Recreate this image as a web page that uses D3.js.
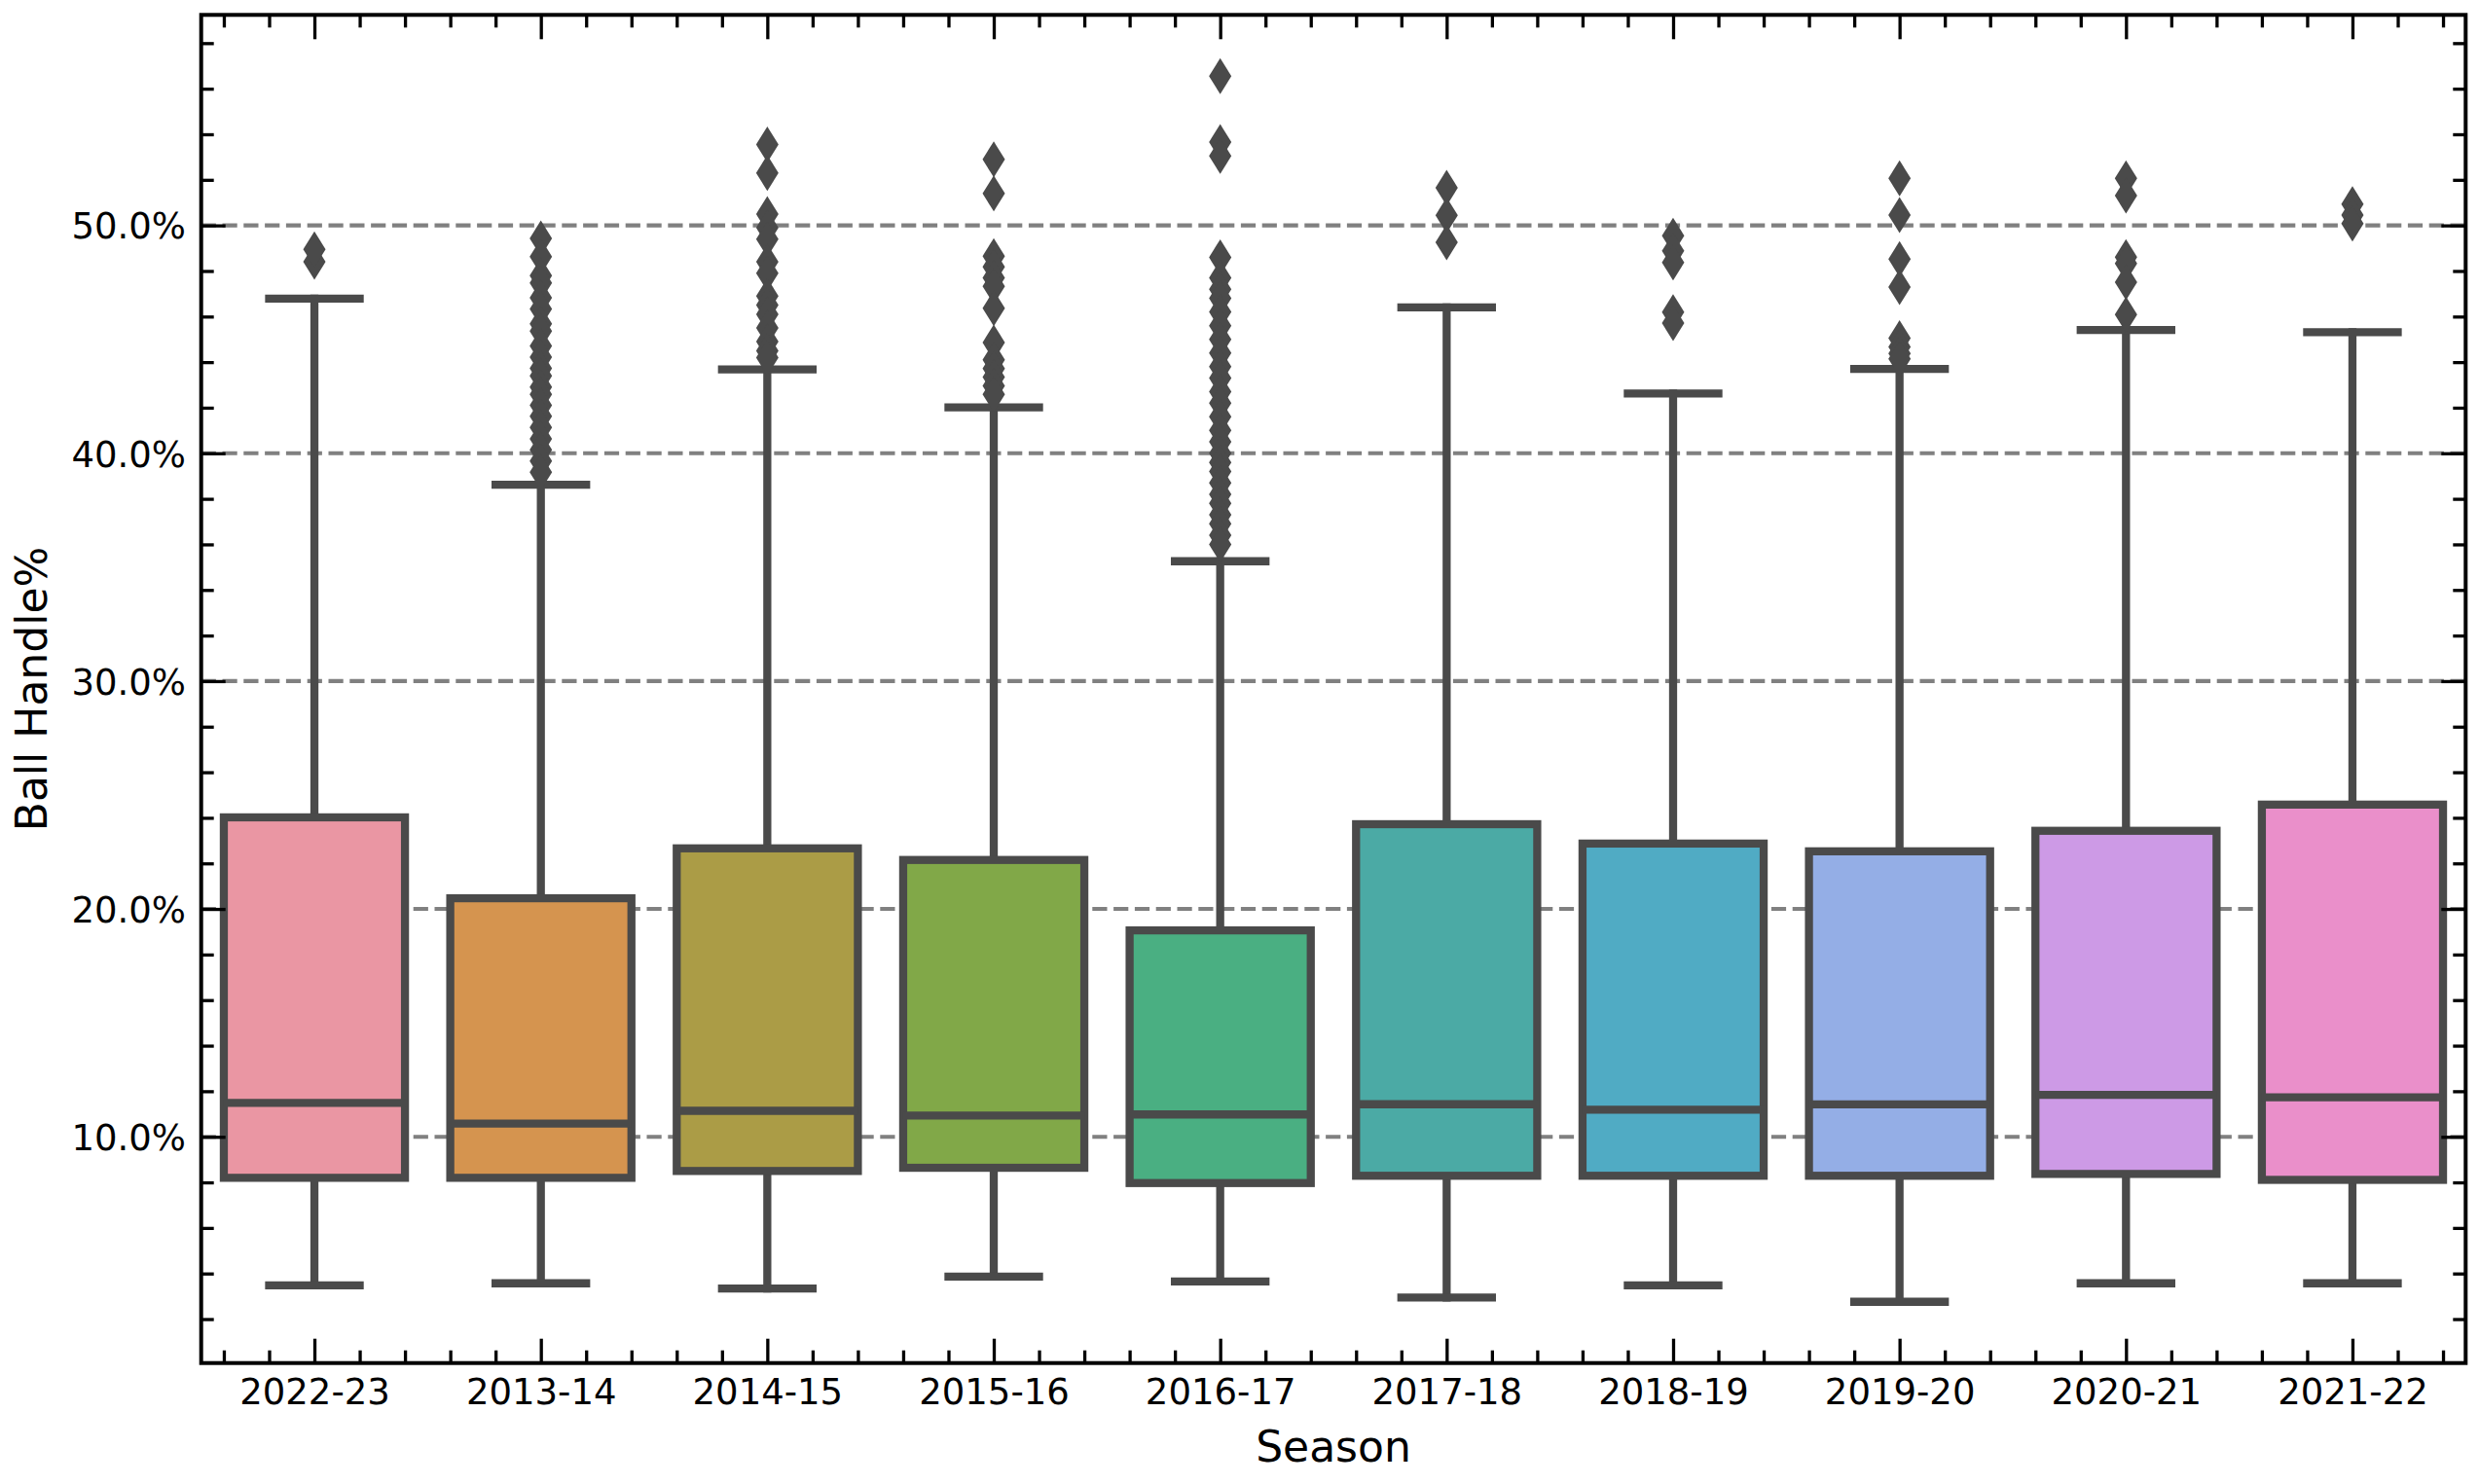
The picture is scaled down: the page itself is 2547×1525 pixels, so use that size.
<!DOCTYPE html>
<html>
<head>
<meta charset="utf-8">
<script src="https://cdnjs.cloudflare.com/ajax/libs/d3/7.8.5/d3.min.js"></script>
<style>
	body { margin: 0; background: #ffffff; }
	text { font-family: "DejaVu Sans", sans-serif; fill: #000000; }
</style>
</head>
<body>
<div id="chart"></div>
<script>
//Seasons in the order they were plotted
var seasons = ["2022-23","2013-14","2014-15","2015-16","2016-17","2017-18","2018-19","2019-20","2020-21","2021-22"];

//Box statistics (Ball Handle %)
var whiskerLow  = [3.48, 3.57, 3.34, 3.86, 3.65, 2.95, 3.48, 2.76, 3.57, 3.57];
var q1          = [8.20, 8.20, 8.50, 8.64, 7.97, 8.29, 8.29, 8.29, 8.37, 8.11];
var median      = [11.49, 10.58, 11.14, 10.93, 10.98, 11.43, 11.19, 11.42, 11.84, 11.73];
var q3          = [24.02, 20.47, 22.66, 22.15, 19.06, 23.72, 22.87, 22.53, 23.43, 24.58];
var whiskerHigh = [46.79, 38.62, 43.68, 42.01, 35.26, 46.40, 42.62, 43.70, 45.41, 45.31];

//Outliers per season
var outliers = [
	[48.40, 48.95],
	[49.43, 48.63, 47.80, 47.47, 46.82, 46.33, 45.68, 45.36, 44.71, 44.22, 43.73, 43.40, 42.91, 42.59, 42.11, 41.62, 41.13, 40.63, 40.15, 39.66, 39.17],
	[53.55, 52.30, 50.50, 49.90, 49.40, 48.40, 47.90, 46.90, 46.50, 46.10, 45.50, 44.90, 44.50, 44.20],
	[52.90, 51.40, 48.65, 48.18, 47.70, 47.33, 46.37, 44.86, 44.10, 43.72, 43.34, 42.96, 42.59],
	[56.55, 53.66, 53.05, 48.60, 47.70, 47.20, 46.80, 46.20, 45.60, 45.00, 44.40, 43.80, 43.30, 42.70, 42.20, 41.60, 41.00, 40.50, 40.00, 39.60, 39.20, 38.70, 38.20, 37.80, 37.30, 36.90, 36.40, 36.00],
	[51.65, 50.44, 49.26],
	[49.55, 48.88, 48.37, 46.19, 45.71],
	[52.07, 50.45, 48.52, 47.29, 45.05, 44.67, 44.38, 44.14],
	[52.07, 51.31, 48.61, 48.33, 47.51, 46.09],
	[50.93, 50.45, 50.08]
];

//Box fill colours (desaturated husl)
var boxColors = ["#ea96a3","#d5944f","#ab9c46","#81a848","#4aaf82","#4baaa5","#50abc4","#94aee6","#cd9ae6","#ea8fca"];

//Axis ticks
var yMajorTicks = [10, 20, 30, 40, 50];
var yTickLabels = ["10.0%","20.0%","30.0%","40.0%","50.0%"];

var W = 2547, H = 1525;
var plot = { left: 206.7, right: 2533.3, top: 15.3, bottom: 1400.7 };
var lineColor = "#4a4a4a";
var lw = 8.3;

var svg = d3.select("#chart")
	.append("svg")
	.attr("width", W)
	.attr("height", H);

///////////////////////////////////////////////////////////////////////////
//////////////////////////////// Scales ///////////////////////////////////
///////////////////////////////////////////////////////////////////////////

//y limits like matplotlib autoscale: data range + 5% each side
var allVals = whiskerLow.concat(whiskerHigh, d3.merge(outliers));
var lo = d3.min(allVals), hi = d3.max(allVals), pad = (hi - lo) * 0.05;

var y = d3.scaleLinear()
	.domain([lo - pad, hi + pad])
	.range([plot.bottom, plot.top]);

var x = d3.scaleLinear()
	.domain([-0.5, seasons.length - 0.5])
	.range([plot.left, plot.right]);

var step = x(1) - x(0),
	boxW = step * 0.8,
	capW = boxW * 0.5;

//minor tick positions
var xMinor = d3.range(-0.4, seasons.length - 0.5, 0.2).filter(function(v){ return Math.abs(v - Math.round(v)) > 0.01; });
var yMinor = d3.range(Math.ceil(y.domain()[0] / 2) * 2, y.domain()[1], 2).filter(function(v){ return v % 10 !== 0; });

///////////////////////////////////////////////////////////////////////////
//////////////////////////////// Grid /////////////////////////////////////
///////////////////////////////////////////////////////////////////////////

svg.append("g").selectAll("line")
	.data(yMajorTicks)
	.enter().append("line")
	.attr("x1", plot.left)
	.attr("x2", plot.right)
	.attr("y1", function(d){ return y(d); })
	.attr("y2", function(d){ return y(d); })
	.style("stroke", "#808080")
	.style("stroke-width", 4.1)
	.style("stroke-dasharray", "15.2,6.6");

///////////////////////////////////////////////////////////////////////////
//////////////////////////////// Boxes ////////////////////////////////////
///////////////////////////////////////////////////////////////////////////

var boxes = svg.append("g").selectAll(".box")
	.data(seasons)
	.enter().append("g")
	.attr("class", "box");

//whiskers
boxes.append("line")
	.attr("x1", function(d,i){ return x(i); })
	.attr("x2", function(d,i){ return x(i); })
	.attr("y1", function(d,i){ return y(q1[i]); })
	.attr("y2", function(d,i){ return y(whiskerLow[i]); });
boxes.append("line")
	.attr("x1", function(d,i){ return x(i); })
	.attr("x2", function(d,i){ return x(i); })
	.attr("y1", function(d,i){ return y(q3[i]); })
	.attr("y2", function(d,i){ return y(whiskerHigh[i]); });

//caps
boxes.append("line")
	.attr("x1", function(d,i){ return x(i) - capW/2; })
	.attr("x2", function(d,i){ return x(i) + capW/2; })
	.attr("y1", function(d,i){ return y(whiskerLow[i]); })
	.attr("y2", function(d,i){ return y(whiskerLow[i]); });
boxes.append("line")
	.attr("x1", function(d,i){ return x(i) - capW/2; })
	.attr("x2", function(d,i){ return x(i) + capW/2; })
	.attr("y1", function(d,i){ return y(whiskerHigh[i]); })
	.attr("y2", function(d,i){ return y(whiskerHigh[i]); });

boxes.selectAll("line")
	.style("stroke", lineColor)
	.style("stroke-width", lw)
	.style("stroke-linecap", "square");

//box body
boxes.append("rect")
	.attr("x", function(d,i){ return x(i) - boxW/2; })
	.attr("y", function(d,i){ return y(q3[i]); })
	.attr("width", boxW)
	.attr("height", function(d,i){ return y(q1[i]) - y(q3[i]); })
	.style("fill", function(d,i){ return boxColors[i]; })
	.style("stroke", lineColor)
	.style("stroke-width", lw)
	.style("stroke-linejoin", "miter");

//median
boxes.append("line")
	.attr("class", "median")
	.attr("x1", function(d,i){ return x(i) - boxW/2; })
	.attr("x2", function(d,i){ return x(i) + boxW/2; })
	.attr("y1", function(d,i){ return y(median[i]); })
	.attr("y2", function(d,i){ return y(median[i]); })
	.style("stroke", lineColor)
	.style("stroke-width", lw);

//outliers as thin diamonds
var diamond = "M0,-18.5L11.5,0L0,18.5L-11.5,0Z";
boxes.each(function(d,i){
	d3.select(this).selectAll(".flier")
		.data(outliers[i])
		.enter().append("path")
		.attr("class", "flier")
		.attr("d", diamond)
		.attr("transform", function(v){ return "translate(" + x(i) + "," + y(v) + ")"; })
		.style("fill", lineColor);
});

///////////////////////////////////////////////////////////////////////////
//////////////////////////////// Axes /////////////////////////////////////
///////////////////////////////////////////////////////////////////////////

function styleAxis(g) {
	g.select(".domain").remove();
	g.selectAll(".tick line").style("stroke", "#000").style("stroke-width", 3.3);
	g.selectAll(".tick text").style("font-size", "37px").style("fill", "#000");
}

//bottom
svg.append("g")
	.attr("transform", "translate(0," + plot.bottom + ")")
	.call(d3.axisBottom(x).tickValues(d3.range(seasons.length)).tickFormat(function(i){ return seasons[i]; })
		.tickSize(-25).tickPadding(15.7))
	.call(styleAxis);
svg.append("g")
	.attr("transform", "translate(0," + plot.bottom + ")")
	.call(d3.axisBottom(x).tickValues(xMinor).tickFormat("").tickSize(-13))
	.call(styleAxis);

//top
svg.append("g")
	.attr("transform", "translate(0," + plot.top + ")")
	.call(d3.axisTop(x).tickValues(d3.range(seasons.length)).tickFormat("").tickSize(-25))
	.call(styleAxis);
svg.append("g")
	.attr("transform", "translate(0," + plot.top + ")")
	.call(d3.axisTop(x).tickValues(xMinor).tickFormat("").tickSize(-13))
	.call(styleAxis);

//left
svg.append("g")
	.attr("transform", "translate(" + plot.left + ",0)")
	.call(d3.axisLeft(y).tickValues(yMajorTicks).tickFormat(function(v,i){ return yTickLabels[i]; })
		.tickSize(-25).tickPadding(15.7))
	.call(styleAxis)
	.selectAll(".tick text").attr("dy", "0.36em");
svg.append("g")
	.attr("transform", "translate(" + plot.left + ",0)")
	.call(d3.axisLeft(y).tickValues(yMinor).tickFormat("").tickSize(-13))
	.call(styleAxis);

//right
svg.append("g")
	.attr("transform", "translate(" + plot.right + ",0)")
	.call(d3.axisRight(y).tickValues(yMajorTicks).tickFormat("").tickSize(-25))
	.call(styleAxis);
svg.append("g")
	.attr("transform", "translate(" + plot.right + ",0)")
	.call(d3.axisRight(y).tickValues(yMinor).tickFormat("").tickSize(-13))
	.call(styleAxis);

//frame
svg.append("rect")
	.attr("x", plot.left)
	.attr("y", plot.top)
	.attr("width", plot.right - plot.left)
	.attr("height", plot.bottom - plot.top)
	.style("fill", "none")
	.style("stroke", "#000")
	.style("stroke-width", 4);

//axis titles
svg.append("text")
	.attr("x", (plot.left + plot.right) / 2)
	.attr("y", 1502)
	.attr("text-anchor", "middle")
	.style("font-size", "44px")
	.text("Season");

svg.append("text")
	.attr("transform", "translate(48," + ((plot.top + plot.bottom) / 2) + ") rotate(-90)")
	.attr("text-anchor", "middle")
	.style("font-size", "44px")
	.text("Ball Handle%");
</script>
</body>
</html>
